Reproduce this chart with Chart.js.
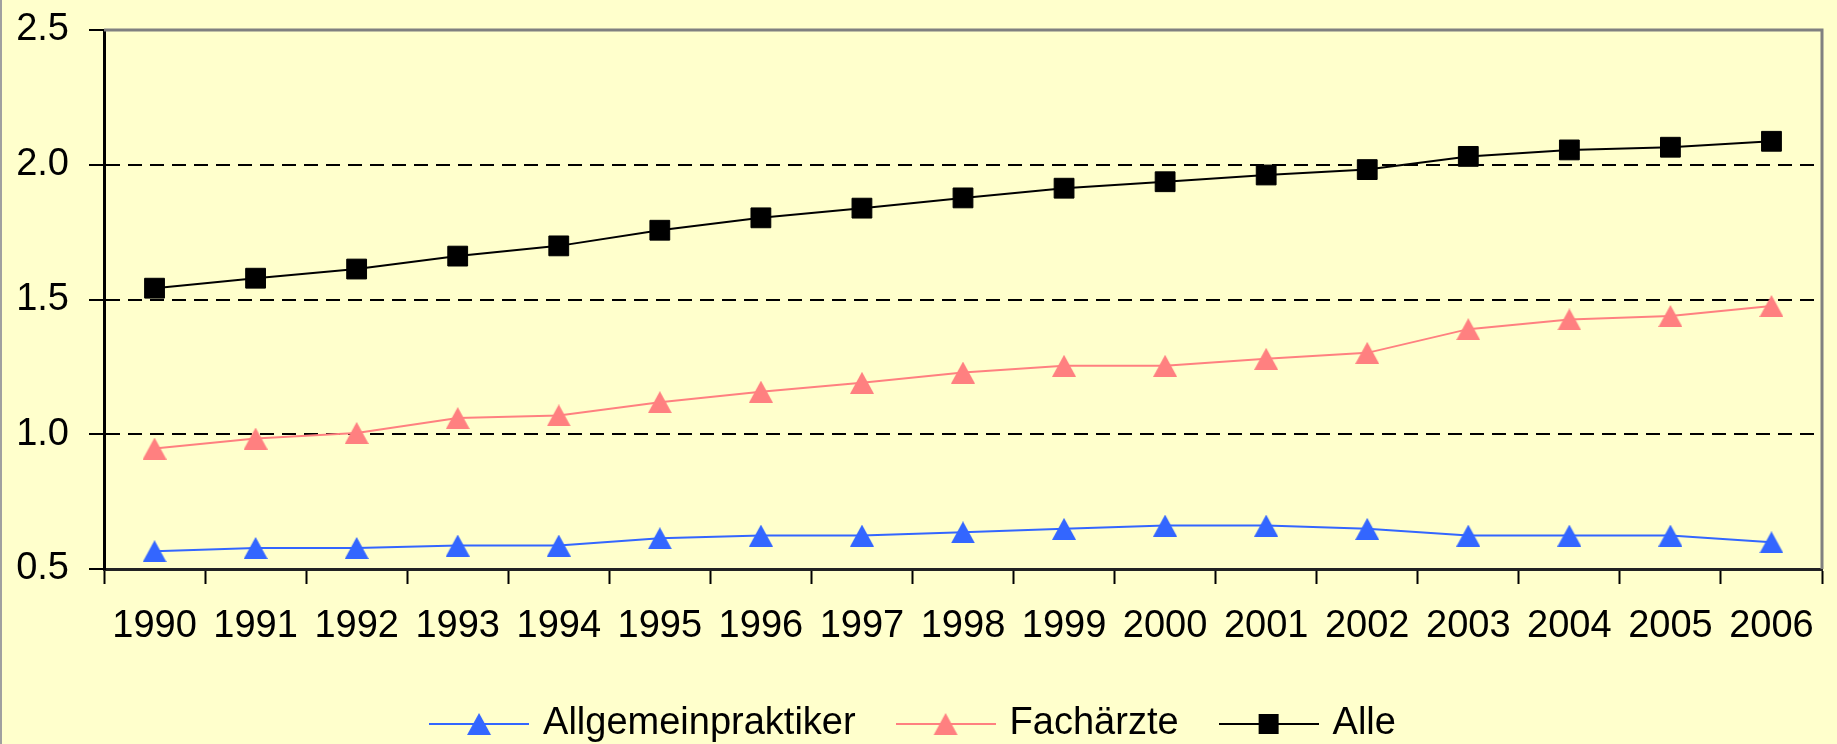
<!DOCTYPE html>
<html>
<head>
<meta charset="utf-8">
<script src="https://cdn.jsdelivr.net/npm/chart.js@4/dist/chart.umd.min.js"></script>
<style>
  html, body { margin: 0; padding: 0; background: #FFFFCC; }
  canvas { display: block; }
</style>
</head>
<body>
<canvas id="chart" width="1837" height="744"></canvas>
<script>
const years = ['1990', '1991', '1992', '1993', '1994', '1995', '1996', '1997', '1998',
               '1999', '2000', '2001', '2002', '2003', '2004', '2005', '2006'];
const allgemein = [0.566, 0.578, 0.578, 0.587, 0.587, 0.614, 0.624, 0.624, 0.636,
                   0.649, 0.661, 0.661, 0.649, 0.624, 0.624, 0.624, 0.599];
const fachaerzte = [0.947, 0.984, 1.005, 1.060, 1.070, 1.119, 1.158, 1.191, 1.229,
                    1.254, 1.254, 1.280, 1.302, 1.390, 1.426, 1.439, 1.476];
const alle = [1.542, 1.579, 1.613, 1.661, 1.699, 1.757, 1.803, 1.839, 1.877,
              1.913, 1.937, 1.962, 1.982, 2.031, 2.055, 2.065, 2.087];
const yTicks = [0.5, 1.0, 1.5, 2.0, 2.5];

const FONT = '"Liberation Sans", Arial, sans-serif';
const FONT_SIZE = 38;
const BLUE = '#3366FF';
const PINK = '#FF8080';
const BLACK = '#000000';

// triangle marker centred on its box (like the spreadsheet markers)
function triangleMarker(color) {
    const c = document.createElement('canvas');
    c.width = 24;
    c.height = 22;
    const g = c.getContext('2d');
    g.fillStyle = color;
    g.beginPath();
    g.moveTo(12, 0);
    g.lineTo(24, 22);
    g.lineTo(0, 22);
    g.closePath();
    g.fill();
    return c;
}

// legend samples: short line with the marker in the middle
function legendIcon(color, shape) {
    const c = document.createElement('canvas');
    c.width = 100;
    c.height = 30;
    const g = c.getContext('2d');
    g.strokeStyle = color;
    g.lineWidth = 2;
    g.beginPath();
    g.moveTo(0, 15);
    g.lineTo(100, 15);
    g.stroke();
    g.fillStyle = color;
    g.beginPath();
    if (shape === 'rect') {
        g.rect(40, 5, 20, 20);
    } else {
        g.moveTo(50, 4);
        g.lineTo(62, 26);
        g.lineTo(38, 26);
        g.closePath();
    }
    g.fill();
    return c;
}

const icons = [legendIcon(BLUE, 'tri'), legendIcon(PINK, 'tri'), legendIcon(BLACK, 'rect')];

const background = {
    id: 'background',
    beforeDraw(chart) {
        const ctx = chart.ctx;
        ctx.save();
        ctx.fillStyle = '#FFFFCC';
        ctx.fillRect(0, 0, chart.width, chart.height);
        ctx.fillStyle = '#A0A0A0';
        ctx.fillRect(0, 0, 2, chart.height);
        ctx.restore();
    },
    beforeDatasetsDraw(chart) {
        const {ctx, chartArea: a} = chart;
        ctx.save();
        ctx.strokeStyle = '#808080';
        ctx.lineWidth = 3;
        ctx.beginPath();
        ctx.moveTo(a.left, a.top);
        ctx.lineTo(a.right, a.top);
        ctx.lineTo(a.right, a.bottom);
        ctx.stroke();
        ctx.restore();
    }
};

function series(label, data, color, style, radius) {
    return {
        label: label,
        data: data,
        borderColor: color,
        backgroundColor: color,
        borderWidth: 2,
        pointStyle: style,
        pointRadius: radius,
        pointHoverRadius: radius,
        pointBorderWidth: 1,
        tension: 0
    };
}

new Chart(document.getElementById('chart'), {
    type: 'line',
    data: {
        labels: years,
        datasets: [
            series('Allgemeinpraktiker', allgemein, BLUE, triangleMarker(BLUE), 12),
            series('Fachärzte', fachaerzte, PINK, triangleMarker(PINK), 12),
            series('Alle', alle, BLACK, 'rect', 14)
        ]
    },
    options: {
        responsive: false,
        animation: false,
        layout: { padding: { left: 0, right: 7, top: 30, bottom: -9 } },
        plugins: {
            tooltip: { enabled: false },
            legend: {
                position: 'bottom',
                labels: {
                    usePointStyle: true,
                    pointStyleWidth: 90,
                    padding: 45,
                    color: '#000',
                    font: { family: FONT, size: FONT_SIZE },
                    generateLabels: chart => chart.data.datasets.map((ds, i) => ({
                        text: ds.label,
                        pointStyle: icons[i],
                        fillStyle: ds.borderColor,
                        strokeStyle: ds.borderColor,
                        lineWidth: 0,
                        hidden: false,
                        datasetIndex: i
                    }))
                }
            }
        },
        scales: {
            x: {
                offset: true,
                afterFit: axis => {
                    axis.height = 91;
                    axis.paddingLeft = 0;
                    axis.paddingRight = 0;
                },
                grid: {
                    offset: true,
                    drawOnChartArea: false,
                    drawTicks: true,
                    tickLength: 15,
                    tickColor: '#000',
                    tickWidth: 2
                },
                border: { color: '#222', width: 3 },
                ticks: {
                    color: '#000',
                    padding: 20,
                    maxRotation: 0,
                    autoSkip: false,
                    font: { family: FONT, size: FONT_SIZE }
                }
            },
            y: {
                min: 0.5,
                max: 2.5,
                afterBuildTicks: axis => { axis.ticks = yTicks.map(v => ({ value: v })); },
                afterFit: axis => {
                    axis.width = 104;
                    axis.paddingTop = 0;
                    axis.paddingBottom = 0;
                },
                grid: {
                    color: ctx => (ctx.tick && (ctx.tick.value === 0.5 || ctx.tick.value === 2.5)) ? 'rgba(0,0,0,0)' : '#000',
                    lineWidth: 2,
                    tickLength: 15,
                    tickColor: '#000',
                    tickWidth: 2
                },
                border: { color: '#000', width: 3, dash: [14, 8] },
                ticks: {
                    color: '#000',
                    padding: 20,
                    font: { family: FONT, size: FONT_SIZE },
                    callback: v => Number(v).toFixed(1)
                }
            }
        }
    },
    plugins: [background]
});
</script>
</body>
</html>
